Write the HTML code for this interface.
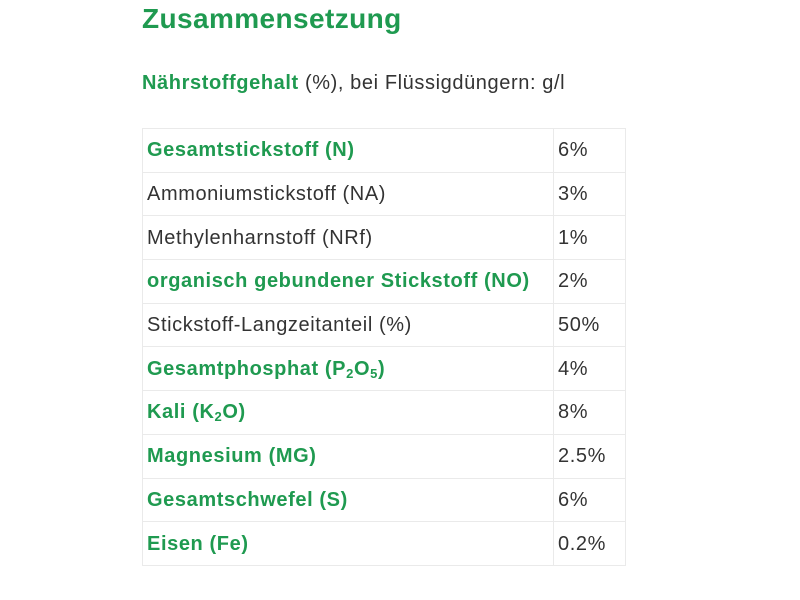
<!DOCTYPE html>
<html><head><meta charset="utf-8"><style>
body{margin:0;width:800px;height:600px;background:#fff;font-family:"Liberation Sans",sans-serif;position:relative;overflow:hidden}
.g{color:#1f9a50;font-weight:bold}
h1{position:absolute;left:142px;top:3px;margin:0;font-size:28px;color:#1f9a50;letter-spacing:0.4px}
.sub{position:absolute;left:142px;top:72px;font-size:20px;color:#333;letter-spacing:0.6px}
table{position:absolute;left:142px;top:128px;border-collapse:collapse;width:484px}
td{border:1px solid #eaeaea;height:43.7px;padding:0 0 0 4px;font-size:20px;color:#333;box-sizing:border-box;letter-spacing:0.6px;line-height:1}
td:first-child{width:411px}
sub{font-size:13px;vertical-align:-3px;line-height:0}
</style></head><body>
<h1>Zusammensetzung</h1>
<div class="sub"><span class="g">Nährstoffgehalt</span> (%), bei Flüssigdüngern: g/l</div>
<table>
<tr><td class="g">Gesamtstickstoff (N)</td><td>6%</td></tr>
<tr><td>Ammoniumstickstoff (NA)</td><td>3%</td></tr>
<tr><td>Methylenharnstoff (NRf)</td><td>1%</td></tr>
<tr><td class="g">organisch gebundener Stickstoff (NO)</td><td>2%</td></tr>
<tr><td>Stickstoff-Langzeitanteil (%)</td><td>50%</td></tr>
<tr><td class="g">Gesamtphosphat (P<sub>2</sub>O<sub>5</sub>)</td><td>4%</td></tr>
<tr><td class="g">Kali (K<sub>2</sub>O)</td><td>8%</td></tr>
<tr><td class="g">Magnesium (MG)</td><td>2.5%</td></tr>
<tr><td class="g">Gesamtschwefel (S)</td><td>6%</td></tr>
<tr><td class="g">Eisen (Fe)</td><td>0.2%</td></tr>
</table>
</body></html>
